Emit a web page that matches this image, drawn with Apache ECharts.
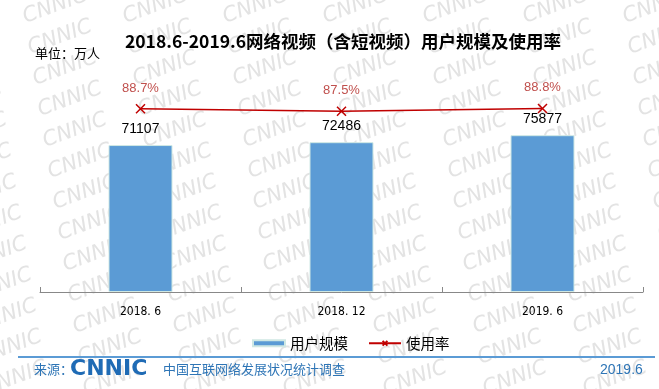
<!DOCTYPE html>
<html>
<head>
<meta charset="utf-8">
<style>html,body{margin:0;padding:0;background:#fff;}#c{width:659px;height:389px;}</style>
<script src="https://cdn.jsdelivr.net/npm/echarts@6/dist/echarts.min.js"></script>
</head>
<body>
<div id="c"></div>
<script>
const categories = ['2018. 6', '2018. 12', '2019. 6'];
const userScale = [71107, 72486, 75877];
const usageRate = [88.7, 87.5, 88.8];
const titleText = '2018.6-2019.6网络视频（含短视频）用户规模及使用率';
const unitText = '单位：万人';
const legendNames = ['用户规模', '使用率'];

const chart = echarts.init(document.getElementById('c'));
const FONT = '"Noto Sans CJK SC","Microsoft YaHei",sans-serif';

// watermark decoration
const marks = [];
for (let r = -1; r < 14; r++) {
  for (let c = -1; c < 8; c++) {
    marks.push({
      type: 'text', silent: true, z: -10,
      x: c * 100 + r * 5 + 20, y: r * 31 + 8,
      rotation: 20 * Math.PI / 180,
      style: { text: 'CNNIC', fill: '#e3e3e3', font: 'italic 21px "DejaVu Sans", sans-serif' }
    });
  }
}

chart.setOption({
  backgroundColor: '#fff',
  animation: false,
  title: {
    text: titleText, left: 338, top: 28, textAlign: 'center',
    textStyle: { fontSize: 17.5, fontWeight: 'bold', color: '#000', fontFamily: FONT }
  },
  legend: {
    data: [
      { name: legendNames[0], icon: 'rect', itemStyle: { color: '#5b9bd5' } },
      { name: legendNames[1] }
    ],
    left: 247, top: 331, itemWidth: 32, itemHeight: 6, itemGap: 20,
    textStyle: { fontSize: 14.5, color: '#000', fontFamily: FONT }
  },
  grid: { left: 40, right: 16, top: 44, bottom: 97 },
  xAxis: {
    type: 'category', data: categories,
    axisLine: { lineStyle: { color: '#888' } },
    axisTick: { show: true, inside: true, length: 5, lineStyle: { color: '#888' } },
    axisLabel: { fontSize: 12, color: '#000', margin: 14, fontFamily: '"DejaVu Sans Condensed", sans-serif' }
  },
  yAxis: [
    { type: 'value', min: 0, max: 120000, show: false, splitLine: { show: false } },
    { type: 'value', min: 0, max: 120, show: false, splitLine: { show: false } }
  ],
  graphic: marks.concat([
    { type: 'text', left: 35, top: 47, style: { text: unitText, fill: '#000', font: '13px ' + FONT } },
    { type: 'rect', shape: { x: 18, y: 356, width: 637, height: 2 }, style: { fill: '#5b9bd5' } },
    { type: 'text', x: 34, y: 369, style: { text: '来源：', fill: '#2e75b6', font: '13px ' + FONT, verticalAlign: 'middle' } },
    { type: 'text', x: 70, y: 369, style: { text: 'CNNIC', fill: '#1f6bb5', font: 'bold 22px "DejaVu Sans", sans-serif', verticalAlign: 'middle' } },
    { type: 'text', x: 163, y: 369, style: { text: '中国互联网络发展状况统计调查', fill: '#2e75b6', font: '13px ' + FONT, verticalAlign: 'middle' } },
    { type: 'text', x: 600, y: 370, style: { text: '2019.6', fill: '#2e75b6', font: '14px "Liberation Sans Narrow", "Liberation Sans", sans-serif', verticalAlign: 'middle' } }
  ]),
  series: [
    {
      name: legendNames[0], type: 'bar', data: userScale, barWidth: 64,
      itemStyle: { color: '#5b9bd5', borderColor: '#cfe8e4', borderWidth: 1 },
      label: { show: true, position: 'top', distance: 9, fontSize: 14, color: '#000', fontFamily: '"Liberation Sans", sans-serif' }
    },
    {
      name: legendNames[1], type: 'line', yAxisIndex: 1, data: usageRate,
      symbol: 'path://M0,0 L10,10 M10,0 L0,10', symbolSize: 9,
      lineStyle: { color: '#c00000', width: 1.5 },
      itemStyle: { color: '#c00000', borderColor: '#c00000', borderWidth: 1.5 },
      label: { show: true, position: 'top', distance: 9, formatter: p => p.value + '%', fontSize: 13, color: '#c0504d', fontFamily: '"Liberation Sans", sans-serif' }
    }
  ]
});
</script>
</body>
</html>
